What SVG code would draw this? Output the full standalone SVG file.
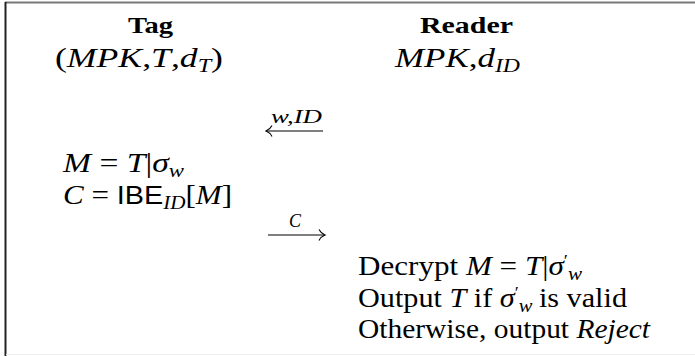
<svg xmlns="http://www.w3.org/2000/svg" width="695" height="356" viewBox="0 0 695 356">
<style>
  text { font-family: "Liberation Serif", "Times New Roman", serif; font-size: 28px; fill: #000; }
  .hd { font-weight: bold; font-size: 24px; }
  .it { font-style: italic; }
  .sub { font-size: 19px; font-style: italic; }
  .pr { font-size: 17px; }
  .sf { font-family: "Liberation Sans", Arial, sans-serif; font-size: 26px; }
  .lbl { font-size: 18px; font-style: italic; }
  .arr { stroke: #000; stroke-width: 1.2; fill: none; }
</style>
<defs>
  <marker id="ah" markerUnits="userSpaceOnUse" viewBox="0 0 10 12" markerWidth="10" markerHeight="12" refX="8.5" refY="6" orient="auto">
    <path d="M2.5,0.5 Q4.5,4.5 8.5,6 Q4.5,7.5 2.5,11.5" fill="none" stroke="#000" stroke-width="1.1"/>
  </marker>
</defs>
<rect width="695" height="356" fill="#fff"/>
<g id="frame">
  <line x1="5" y1="2.5" x2="695" y2="2.5" stroke="#777" stroke-width="2"/>
  <line x1="5.5" y1="2" x2="5.5" y2="356" stroke="#222" stroke-width="2"/>
  <line x1="6" y1="354.5" x2="695" y2="354.5" stroke="#eee" stroke-width="1"/>
</g>
<g id="tag">
  <text class="hd" x="128" y="33" textLength="45" lengthAdjust="spacingAndGlyphs">Tag</text>
  <text x="55" y="67" textLength="168" lengthAdjust="spacingAndGlyphs">(<tspan class="it">MPK</tspan>,<tspan class="it">T</tspan>,<tspan class="it">d</tspan><tspan class="sub" dy="5">T</tspan><tspan dy="-5">)</tspan></text>
</g>
<g id="reader">
  <text class="hd" x="420" y="33" textLength="93" lengthAdjust="spacingAndGlyphs">Reader</text>
  <text x="395" y="67" textLength="125" lengthAdjust="spacingAndGlyphs"><tspan class="it">MPK</tspan>,<tspan class="it">d</tspan><tspan class="sub" dy="5">ID</tspan></text>
</g>
<g id="tag-compute">
  <text x="63" y="172" textLength="121" lengthAdjust="spacingAndGlyphs"><tspan class="it">M</tspan> = <tspan class="it">T</tspan>|<tspan class="it">σ</tspan><tspan class="sub" dy="5">w</tspan></text>
  <text x="63" y="204" textLength="169" lengthAdjust="spacingAndGlyphs"><tspan class="it">C</tspan> = <tspan class="sf">IBE</tspan><tspan class="sub" dy="5">ID</tspan><tspan dy="-5">[</tspan><tspan class="it">M</tspan>]</text>
</g>
<g id="reader-verify">
  <text x="358" y="275" textLength="224" lengthAdjust="spacingAndGlyphs">Decrypt <tspan class="it">M</tspan> = <tspan class="it">T</tspan>|<tspan class="it">σ</tspan><tspan class="pr" dy="-9">′</tspan><tspan class="sub" dy="14">w</tspan></text>
  <text x="358" y="307" textLength="269" lengthAdjust="spacingAndGlyphs">Output <tspan class="it">T</tspan> if <tspan class="it">σ</tspan><tspan class="pr" dy="-9">′</tspan><tspan class="sub" dy="14">w</tspan><tspan dx="6" dy="-5">is valid</tspan></text>
  <text x="358" y="338" textLength="292" lengthAdjust="spacingAndGlyphs">Otherwise, output <tspan class="it">Reject</tspan></text>
</g>
<g id="connectors">
  <g id="msg-w-id">
    <line class="arr" x1="323" y1="131" x2="266" y2="131" marker-end="url(#ah)"/>
    <text class="lbl" x="271" y="123" textLength="51" lengthAdjust="spacingAndGlyphs">w,ID</text>
  </g>
  <g id="msg-c">
    <line class="arr" x1="268" y1="235" x2="325" y2="235" marker-end="url(#ah)"/>
    <text class="lbl" x="289" y="227" textLength="12" lengthAdjust="spacingAndGlyphs">C</text>
  </g>
</g>
</svg>
